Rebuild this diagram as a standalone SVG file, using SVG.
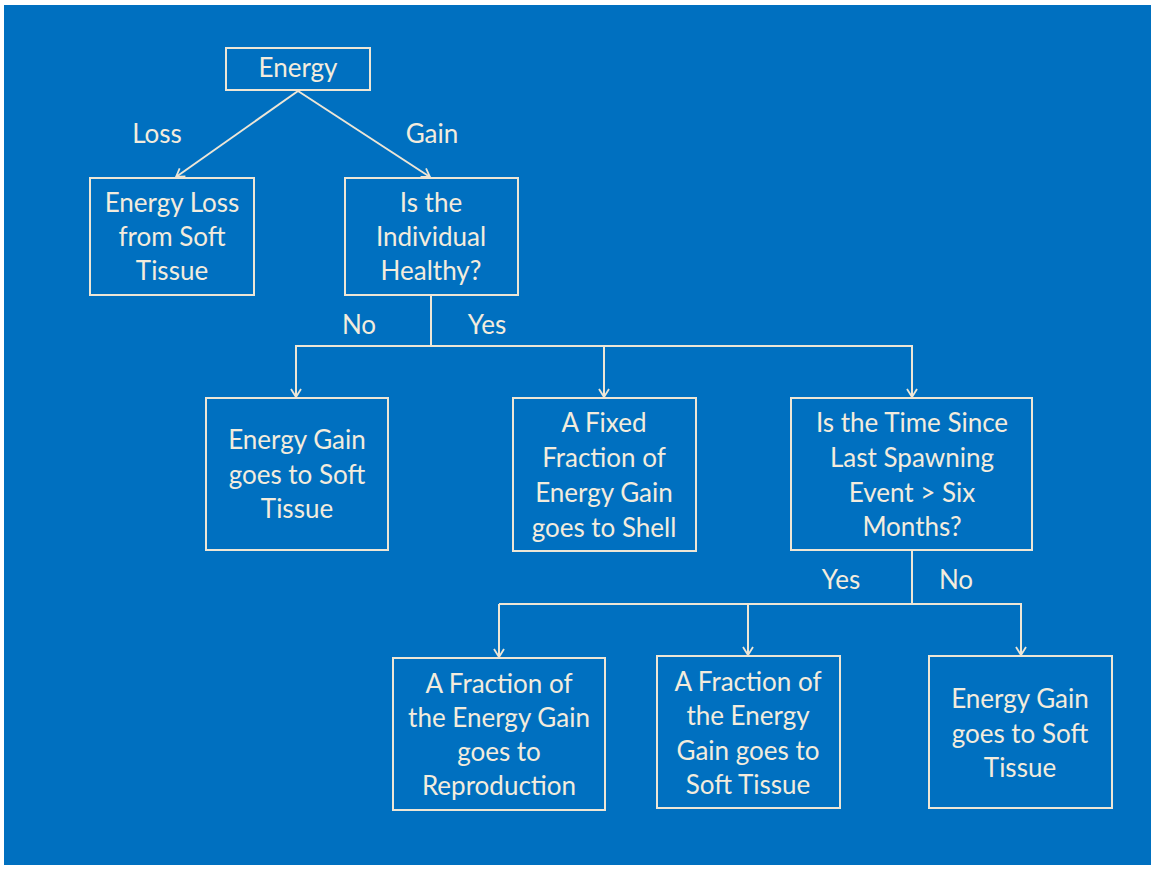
<svg xmlns="http://www.w3.org/2000/svg" width="1151" height="869" viewBox="0 0 1151 869">
<style>
.box{fill:none;stroke:#EDE6D6;stroke-width:2}
.ln{fill:none;stroke:#EDE6D6;stroke-width:2}
.t{font-family:Lato,"Open Sans","Liberation Sans",sans-serif;font-size:26px;fill:#F3ECDD;text-anchor:middle;dominant-baseline:central}
</style>
<defs>
<marker id="arr" viewBox="0 0 12 12" refX="10" refY="6" markerWidth="12" markerHeight="12" markerUnits="userSpaceOnUse" orient="auto">
<polyline points="2,1 10,6 2,11" fill="none" stroke="#EDE6D6" stroke-width="1.8"/>
</marker>
</defs>
<rect x="0" y="0" width="1151" height="869" fill="#ffffff"/>
<rect x="4" y="5" width="1147" height="860" fill="#0070C0"/>
<g id="connectors">
<line class="ln" x1="298" y1="91" x2="176" y2="177" marker-end="url(#arr)"/>
<line class="ln" x1="298" y1="91" x2="430" y2="177" marker-end="url(#arr)"/>
<polyline class="ln" points="431,295 431,346"/>
<polyline class="ln" points="296,397 296,346 912,346 912,397" marker-end="url(#arr)"/>
<line class="ln" x1="296" y1="346" x2="296" y2="397" marker-end="url(#arr)"/>
<line class="ln" x1="604" y1="346" x2="604" y2="397" marker-end="url(#arr)"/>
<polyline class="ln" points="912,550 912,604"/>
<polyline class="ln" points="499,604 1021,604 1021,655" marker-end="url(#arr)"/>
<line class="ln" x1="499" y1="604" x2="499" y2="657" marker-end="url(#arr)"/>
<line class="ln" x1="748" y1="604" x2="748" y2="655" marker-end="url(#arr)"/>
<text class="t" x="157" y="133">Loss</text>
<text class="t" x="432" y="133">Gain</text>
<text class="t" x="359" y="324">No</text>
<text class="t" x="487" y="324">Yes</text>
<text class="t" x="841" y="579">Yes</text>
<text class="t" x="956" y="579">No</text>
</g>
<g id="energy">
<rect class="box" x="226" y="48" width="144" height="42"/>
<text class="t" x="298" y="67">Energy</text>
</g>
<g id="energy-loss">
<rect class="box" x="90" y="178" width="164" height="117"/>
<text class="t" x="172" y="202">Energy Loss</text>
<text class="t" x="172" y="236">from Soft</text>
<text class="t" x="172" y="270">Tissue</text>
</g>
<g id="healthy">
<rect class="box" x="345" y="178" width="173" height="117"/>
<text class="t" x="431" y="202">Is the</text>
<text class="t" x="431" y="236">Individual</text>
<text class="t" x="431" y="270">Healthy?</text>
</g>
<g id="gain-soft-1">
<rect class="box" x="206" y="398" width="182" height="152"/>
<text class="t" x="297" y="439">Energy Gain</text>
<text class="t" x="297" y="474">goes to Soft</text>
<text class="t" x="297" y="508">Tissue</text>
</g>
<g id="shell">
<rect class="box" x="513" y="398" width="183" height="153"/>
<text class="t" x="604" y="422">A Fixed</text>
<text class="t" x="604" y="457">Fraction of</text>
<text class="t" x="604" y="492">Energy Gain</text>
<text class="t" x="604" y="527">goes to Shell</text>
</g>
<g id="spawning">
<rect class="box" x="791" y="398" width="241" height="152"/>
<text class="t" x="912" y="422">Is the Time Since</text>
<text class="t" x="912" y="457">Last Spawning</text>
<text class="t" x="912" y="492">Event &gt; Six</text>
<text class="t" x="912" y="526">Months?</text>
</g>
<g id="reproduction">
<rect class="box" x="393" y="658" width="212" height="152"/>
<text class="t" x="499" y="683">A Fraction of</text>
<text class="t" x="499" y="717">the Energy Gain</text>
<text class="t" x="499" y="751">goes to</text>
<text class="t" x="499" y="785">Reproduction</text>
</g>
<g id="fraction-soft">
<rect class="box" x="657" y="656" width="183" height="152"/>
<text class="t" x="748" y="681">A Fraction of</text>
<text class="t" x="748" y="715">the Energy</text>
<text class="t" x="748" y="750">Gain goes to</text>
<text class="t" x="748" y="784">Soft Tissue</text>
</g>
<g id="gain-soft-2">
<rect class="box" x="929" y="656" width="183" height="152"/>
<text class="t" x="1020" y="698">Energy Gain</text>
<text class="t" x="1020" y="733">goes to Soft</text>
<text class="t" x="1020" y="767">Tissue</text>
</g>
</svg>
